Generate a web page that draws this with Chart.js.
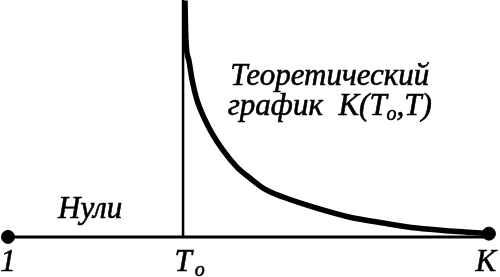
<!DOCTYPE html>
<html>
<head>
<meta charset="utf-8">
<script src="https://cdn.jsdelivr.net/npm/chart.js@4.4.0/dist/chart.umd.min.js"></script>
<style>
  html, body { margin: 0; padding: 0; background: #fff; }
</style>
</head>
<body>
<canvas id="chart" width="500" height="277"></canvas>
<script>
// points on the axis: 1, T_o, K
var axisLabels = ['1', 'T', 'K'];
var axisX = [0, 36.4, 100];

// theoretical curve K(T_o, T)
var curveT = [36.8, 37.0, 37.6, 38.3, 39.3, 40.7, 42.4, 44.7, 47.6, 50.3, 53.4, 57.2, 64.2, 71.1, 78.0, 85.0, 91.9, 98.8, 100];
var curveK = [102, 84.9, 76.3, 67.6, 59.0, 51.7, 44.8, 37.4, 30.1, 25.4, 20.6, 17.2, 12.4, 8.5, 6.0, 3.8, 2.5, 1.6, 1.4];

// end dots
var dotX = [0, 100];
var dotY = [0, 1.4];

var font = 'italic 31px "Liberation Serif"';
var subFont = 'italic 20px "Liberation Serif"';

function pts(xs, ys) {
    return xs.map(function (x, i) { return { x: x, y: ys[i] }; });
}

function txt(c, s, x, y) {
    c.fillText(s, x, y);
    c.strokeText(s, x, y);
}

var textPlugin = {
    id: 'texts',
    afterDatasetsDraw: function (chart) {
        var c = chart.ctx;
        var sx = chart.scales.x, sy = chart.scales.y;
        c.save();
        c.fillStyle = '#000';
        c.strokeStyle = '#000';
        c.lineWidth = 0.6;
        c.textBaseline = 'alphabetic';

        // axis labels
        c.font = font;
        c.textAlign = 'center';
        var by = sy.getPixelForValue(-14.6);
        txt(c, axisLabels[0], sx.getPixelForValue(axisX[0]), by);
        txt(c, axisLabels[1], sx.getPixelForValue(axisX[1]), by);
        var tw = c.measureText('T').width;
        txt(c, axisLabels[2], sx.getPixelForValue(axisX[2]) - 3, by);
        c.textAlign = 'left';
        c.font = subFont;
        txt(c, 'o', sx.getPixelForValue(axisX[1]) + tw / 2 + 3, by + 5);

        // zeros
        c.font = font;
        txt(c, 'Нули', sx.getPixelForValue(10.4), sy.getPixelForValue(8.1));

        // caption
        txt(c, 'Теоретический', sx.getPixelForValue(46.2), sy.getPixelForValue(65.7));
        var x = sx.getPixelForValue(45.7), y = sy.getPixelForValue(52.5);
        var s1 = 'график  K(T';
        txt(c, s1, x, y);
        x += c.measureText(s1).width;
        c.font = subFont;
        txt(c, 'o', x, y + 5);
        x += c.measureText('o').width;
        c.font = font;
        txt(c, ',T)', x, y);
        c.restore();
    }
};

function draw() {
    var ctx = document.getElementById('chart').getContext('2d');
    new Chart(ctx, {
        type: 'scatter',
        data: {
            datasets: [{
                // baseline
                data: pts([axisX[0], axisX[2]], [0, 0]),
                showLine: true,
                borderColor: '#000',
                borderWidth: 3,
                pointRadius: 0
            }, {
                // vertical line at T_o
                data: pts([axisX[1], axisX[1]], [0, 110]),
                showLine: true,
                borderColor: '#000',
                borderWidth: 2.5,
                pointRadius: 0
            }, {
                data: pts(curveT, curveK),
                showLine: true,
                borderColor: '#000',
                borderWidth: 5.5,
                cubicInterpolationMode: 'monotone',
                pointRadius: 0
            }, {
                data: pts(dotX, dotY),
                showLine: false,
                backgroundColor: '#000',
                borderColor: '#000',
                pointRadius: 6.5
            }]
        },
        options: {
            responsive: false,
            animation: false,
            layout: { padding: 0, autoPadding: false },
            plugins: {
                legend: { display: false },
                tooltip: { enabled: false }
            },
            scales: {
                x: { type: 'linear', display: false, min: -1.66, max: 102.3 },
                y: { type: 'linear', display: false, min: -17.3, max: 102.2 }
            }
        },
        plugins: [textPlugin]
    });
}

Promise.all([document.fonts.load(font), document.fonts.load(subFont)]).then(draw, draw);
</script>
</body>
</html>
